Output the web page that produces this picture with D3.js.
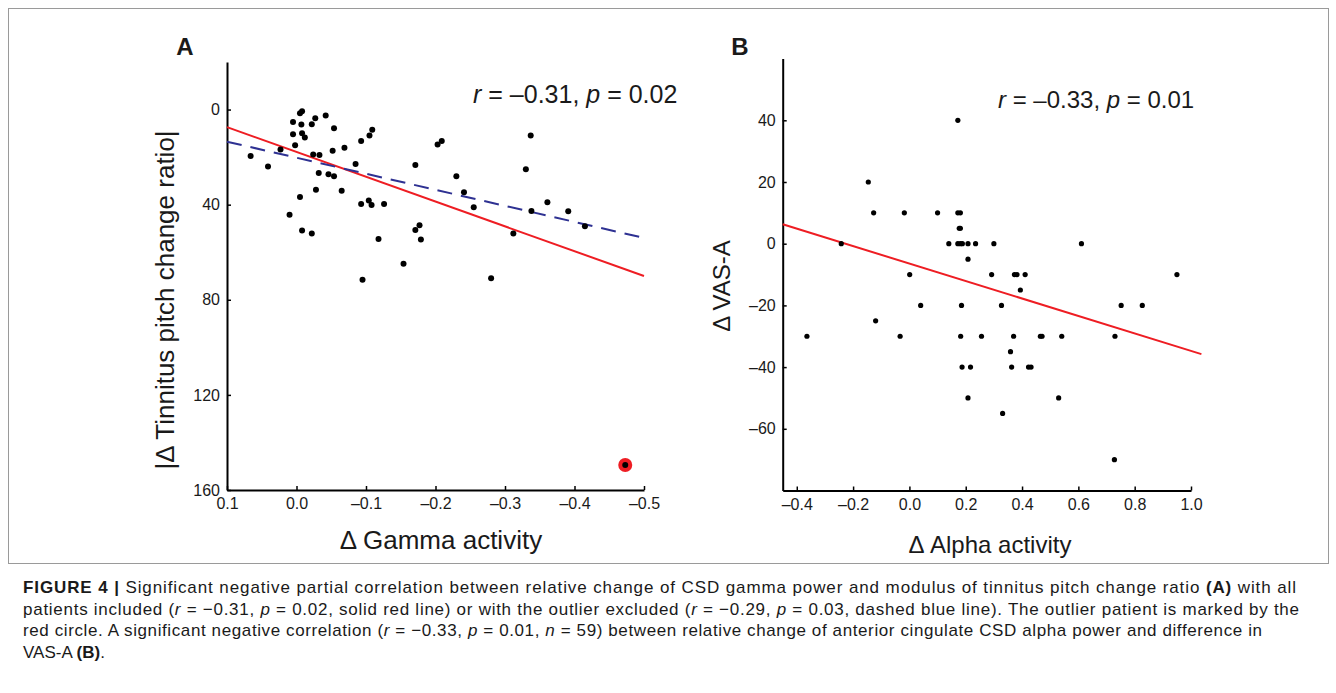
<!DOCTYPE html>
<html lang="en">
<head>
  <meta charset="UTF-8">
  <title>Figure 4</title>
  <script src="https://d3js.org/d3.v7.min.js"></script>
  <style>
    html, body { margin: 0; background: #fff; }
    svg { display: block; }
    text { font-family: "Liberation Sans", Arial, sans-serif; fill: #1a1a1a; }
    .axis path, .axis line { stroke: #000; }
    .axis path { stroke-width: 2px; }
    .axis line { stroke-width: 1.5px; }
    .axis text { font-size: 16px; }
  </style>
</head>
<body>
<svg width="1336" height="693"></svg>
<script>
// panel A: delta gamma vs |delta tinnitus pitch change ratio|
const gammaX = [0.066, 0.041, 0.023, 0.010, 0.005, 0.005, 0.002, -0.005, -0.005, -0.008,
  -0.007, -0.008, -0.012, -0.008, -0.022, -0.022, -0.027, -0.024, -0.033, -0.032,
  -0.028, -0.042, -0.046, -0.054, -0.054, -0.052, -0.065, -0.069, -0.085, -0.093,
  -0.105, -0.109, -0.093, -0.104, -0.108, -0.126, -0.118, -0.171, -0.171, -0.177,
  -0.179, -0.203, -0.209, -0.230, -0.241, -0.255, -0.337, -0.330, -0.361, -0.338,
  -0.391, -0.415, -0.312, -0.095, -0.154, -0.280];
const pitchY = [19.5, 24.0, 16.8, 44.2, 5.2, 10.4, 15.0, 36.8, 1.6, 0.7,
  6.3, 10.0, 11.7, 50.9, 52.1, 6.2, 3.7, 18.9, 19.1, 26.7,
  33.7, 2.5, 27.2, 28.1, 7.9, 17.3, 34.1, 16.1, 22.9, 13.2,
  10.9, 8.5, 39.7, 38.3, 40.1, 39.7, 54.4, 23.3, 50.7, 48.7,
  54.7, 14.7, 13.2, 28.1, 34.8, 41.1, 10.9, 25.1, 39.0, 42.7,
  42.8, 49.1, 52.1, 71.6, 64.8, 70.9];
const outlierX = -0.473, outlierY = 149.5;
const fitAllX = [0.1, -0.5], fitAllY = [7.4, 70];          // solid red
const fitExclX = [0.1, -0.5], fitExclY = [13.5, 54];       // dashed blue
const ticksAx = [0.1, 0.0, -0.1, -0.2, -0.3, -0.4, -0.5];
const ticksAy = [0, 40, 80, 120, 160];

// panel B: delta alpha vs delta VAS-A
const alphaX = [0.172, -0.146, -0.127, -0.018, 0.100, 0.172, 0.181, 0.177, 0.181, -0.242,
  0.140, 0.172, 0.181, 0.188, 0.208, 0.235, 0.300, 0.611, 0.208, 0.001,
  0.292, 0.373, 0.382, 0.411, 0.950, 0.394, -0.364, -0.033, 0.182, 0.256,
  0.370, 0.465, 0.471, 0.541, 0.730, -0.120, 0.040, 0.185, 0.327, 0.752,
  0.827, 0.359, 0.187, 0.217, 0.363, 0.423, 0.432, 0.208, 0.530, 0.331,
  0.728];
const vasY = [40, 20, 10, 10, 10, 10, 10, 5, 5, 0,
  0, 0, 0, 0, 0, 0, 0, 0, -5, -10,
  -10, -10, -10, -10, -10, -15, -30, -30, -30, -30,
  -30, -30, -30, -30, -30, -25, -20, -20, -20, -20,
  -20, -35, -40, -40, -40, -40, -40, -50, -50, -55,
  -70];
const fitBX = [-0.45, 1.037], fitBY = [6.3, -35.8];
const ticksBx = [-0.4, -0.2, 0.0, 0.2, 0.4, 0.6, 0.8, 1.0];
const ticksBy = [-60, -40, -20, 0, 20, 40];

const svg = d3.select("svg");
const red = "#ee1d23", blue = "#2e3192";

// figure frame
svg.append("rect").attr("x", 8.5).attr("y", 8.5).attr("width", 1320).attr("height", 555)
  .attr("fill", "none").attr("stroke", "#9a9a9a").attr("stroke-width", 1);

const fmt = d => (d < 0 ? "\u2013" : "") + d3.format(".1f")(Math.abs(d));
const fmtInt = d => (d < 0 ? "\u2013" : "") + Math.abs(d);

function stat(g, x, y, r, p, size) {
  const t = g.append("text").attr("x", x).attr("y", y).style("font-size", size + "px");
  t.append("tspan").style("font-style", "italic").text("r");
  t.append("tspan").text(" = \u2013" + r + ", ");
  t.append("tspan").style("font-style", "italic").text("p");
  t.append("tspan").text(" = " + p);
}

// ---- panel A
const xA = d3.scaleLinear().domain([0.1, -0.5]).range([227, 644]);
const yA = d3.scaleLinear().domain([-20, 160]).range([62, 490]);
const gA = svg.append("g");

gA.append("g").attr("class", "axis").attr("transform", "translate(0,490)")
  .call(d3.axisBottom(xA).tickValues(ticksAx).tickFormat(fmt).tickSizeInner(-4).tickSizeOuter(0).tickPadding(8));
gA.append("g").attr("class", "axis").attr("transform", "translate(227,0)")
  .call(d3.axisLeft(yA).tickValues(ticksAy).tickFormat(fmtInt).tickSizeInner(-4).tickSizeOuter(0).tickPadding(7));

const line = (xs, ys) => d3.line().x(d => d[0]).y(d => d[1])(xs.map((v, i) => [v, ys[i]]));
gA.append("path").attr("d", line(fitAllX.map(xA), fitAllY.map(yA)))
  .attr("stroke", red).attr("stroke-width", 2).attr("fill", "none");
gA.append("path").attr("d", line(fitExclX.map(xA), fitExclY.map(yA)))
  .attr("stroke", blue).attr("stroke-width", 2).attr("stroke-dasharray", "15,9").attr("fill", "none");

gA.append("circle").attr("cx", xA(outlierX)).attr("cy", yA(outlierY)).attr("r", 7).attr("fill", red);
gA.selectAll("circle.pt").data(gammaX.map((v, i) => [v, pitchY[i]]).concat([[outlierX, outlierY]]))
  .enter().append("circle").attr("class", "pt")
  .attr("cx", d => xA(d[0])).attr("cy", d => yA(d[1])).attr("r", 3).attr("fill", "#000");

gA.append("text").attr("x", 185).attr("y", 55).attr("text-anchor", "middle")
  .style("font-size", "24px").style("font-weight", "bold").text("A");
stat(gA, 473, 103, "0.31", "0.02", 25);
gA.append("text").attr("x", 441).attr("y", 549).attr("text-anchor", "middle")
  .style("font-size", "26px").text("\u0394 Gamma activity");
gA.append("text").attr("transform", "translate(174,300) rotate(-90)").attr("text-anchor", "middle")
  .style("font-size", "26px").text("|\u0394 Tinnitus pitch change ratio|");

// ---- panel B
const xB = d3.scaleLinear().domain([-0.45, 1.0]).range([782.7, 1191]);
const yB = d3.scaleLinear().domain([-80, 60]).range([490.5, 58.6]);
const gB = svg.append("g");

gB.append("g").attr("class", "axis").attr("transform", "translate(0,490.5)")
  .call(d3.axisBottom(xB).tickValues(ticksBx).tickFormat(fmt).tickSizeInner(-4).tickSizeOuter(0).tickPadding(8));
gB.append("g").attr("class", "axis").attr("transform", "translate(782.7,0)")
  .call(d3.axisLeft(yB).tickValues(ticksBy).tickFormat(fmtInt).tickSizeInner(-4).tickSizeOuter(0).tickPadding(7));

gB.append("path").attr("d", line(fitBX.map(xB), fitBY.map(yB)))
  .attr("stroke", red).attr("stroke-width", 2).attr("fill", "none");
gB.selectAll("circle.pt").data(alphaX.map((v, i) => [v, vasY[i]]))
  .enter().append("circle").attr("class", "pt")
  .attr("cx", d => xB(d[0])).attr("cy", d => yB(d[1])).attr("r", 2.6).attr("fill", "#000");

gB.append("text").attr("x", 740).attr("y", 55).attr("text-anchor", "middle")
  .style("font-size", "24px").style("font-weight", "bold").text("B");
stat(gB, 998, 108, "0.33", "0.01", 24);
gB.append("text").attr("x", 990).attr("y", 553).attr("text-anchor", "middle")
  .style("font-size", "24px").text("\u0394 Alpha activity");
gB.append("text").attr("transform", "translate(730,286) rotate(-90)").attr("text-anchor", "middle")
  .style("font-size", "24px").text("\u0394 VAS-A");

// ---- caption (right edges)
const caption = [
  [["b", "FIGURE 4 | "], ["", "Significant negative partial correlation between relative change of CSD gamma power and modulus of tinnitus pitch change ratio "], ["b", "(A)"], ["", " with all"]],
  [["", "patients included ("], ["i", "r"], ["", " = \u22120.31, "], ["i", "p"], ["", " = 0.02, solid red line) or with the outlier excluded ("], ["i", "r"], ["", " = \u22120.29, "], ["i", "p"], ["", " = 0.03, dashed blue line). The outlier patient is marked by the"]],
  [["", "red circle. A significant negative correlation ("], ["i", "r"], ["", " = \u22120.33, "], ["i", "p"], ["", " = 0.01, "], ["i", "n"], ["", " = 59) between relative change of anterior cingulate CSD alpha power and difference in"]],
  [["", "VAS-A "], ["b", "(B)"], ["", "."]]
];
const captionWidth = [1273, 1276, 1239, null];
caption.forEach((parts, li) => {
  const t = svg.append("text").attr("x", 23).attr("y", 593 + li * 21.5).style("font-size", "17px");
  parts.forEach(([s, txt]) => {
    const sp = t.append("tspan").text(txt);
    if (s === "b") sp.style("font-weight", "bold");
    if (s === "i") sp.style("font-style", "italic");
  });
  if (captionWidth[li]) t.attr("textLength", captionWidth[li]).attr("lengthAdjust", "spacing");
});
</script>
</body>
</html>
